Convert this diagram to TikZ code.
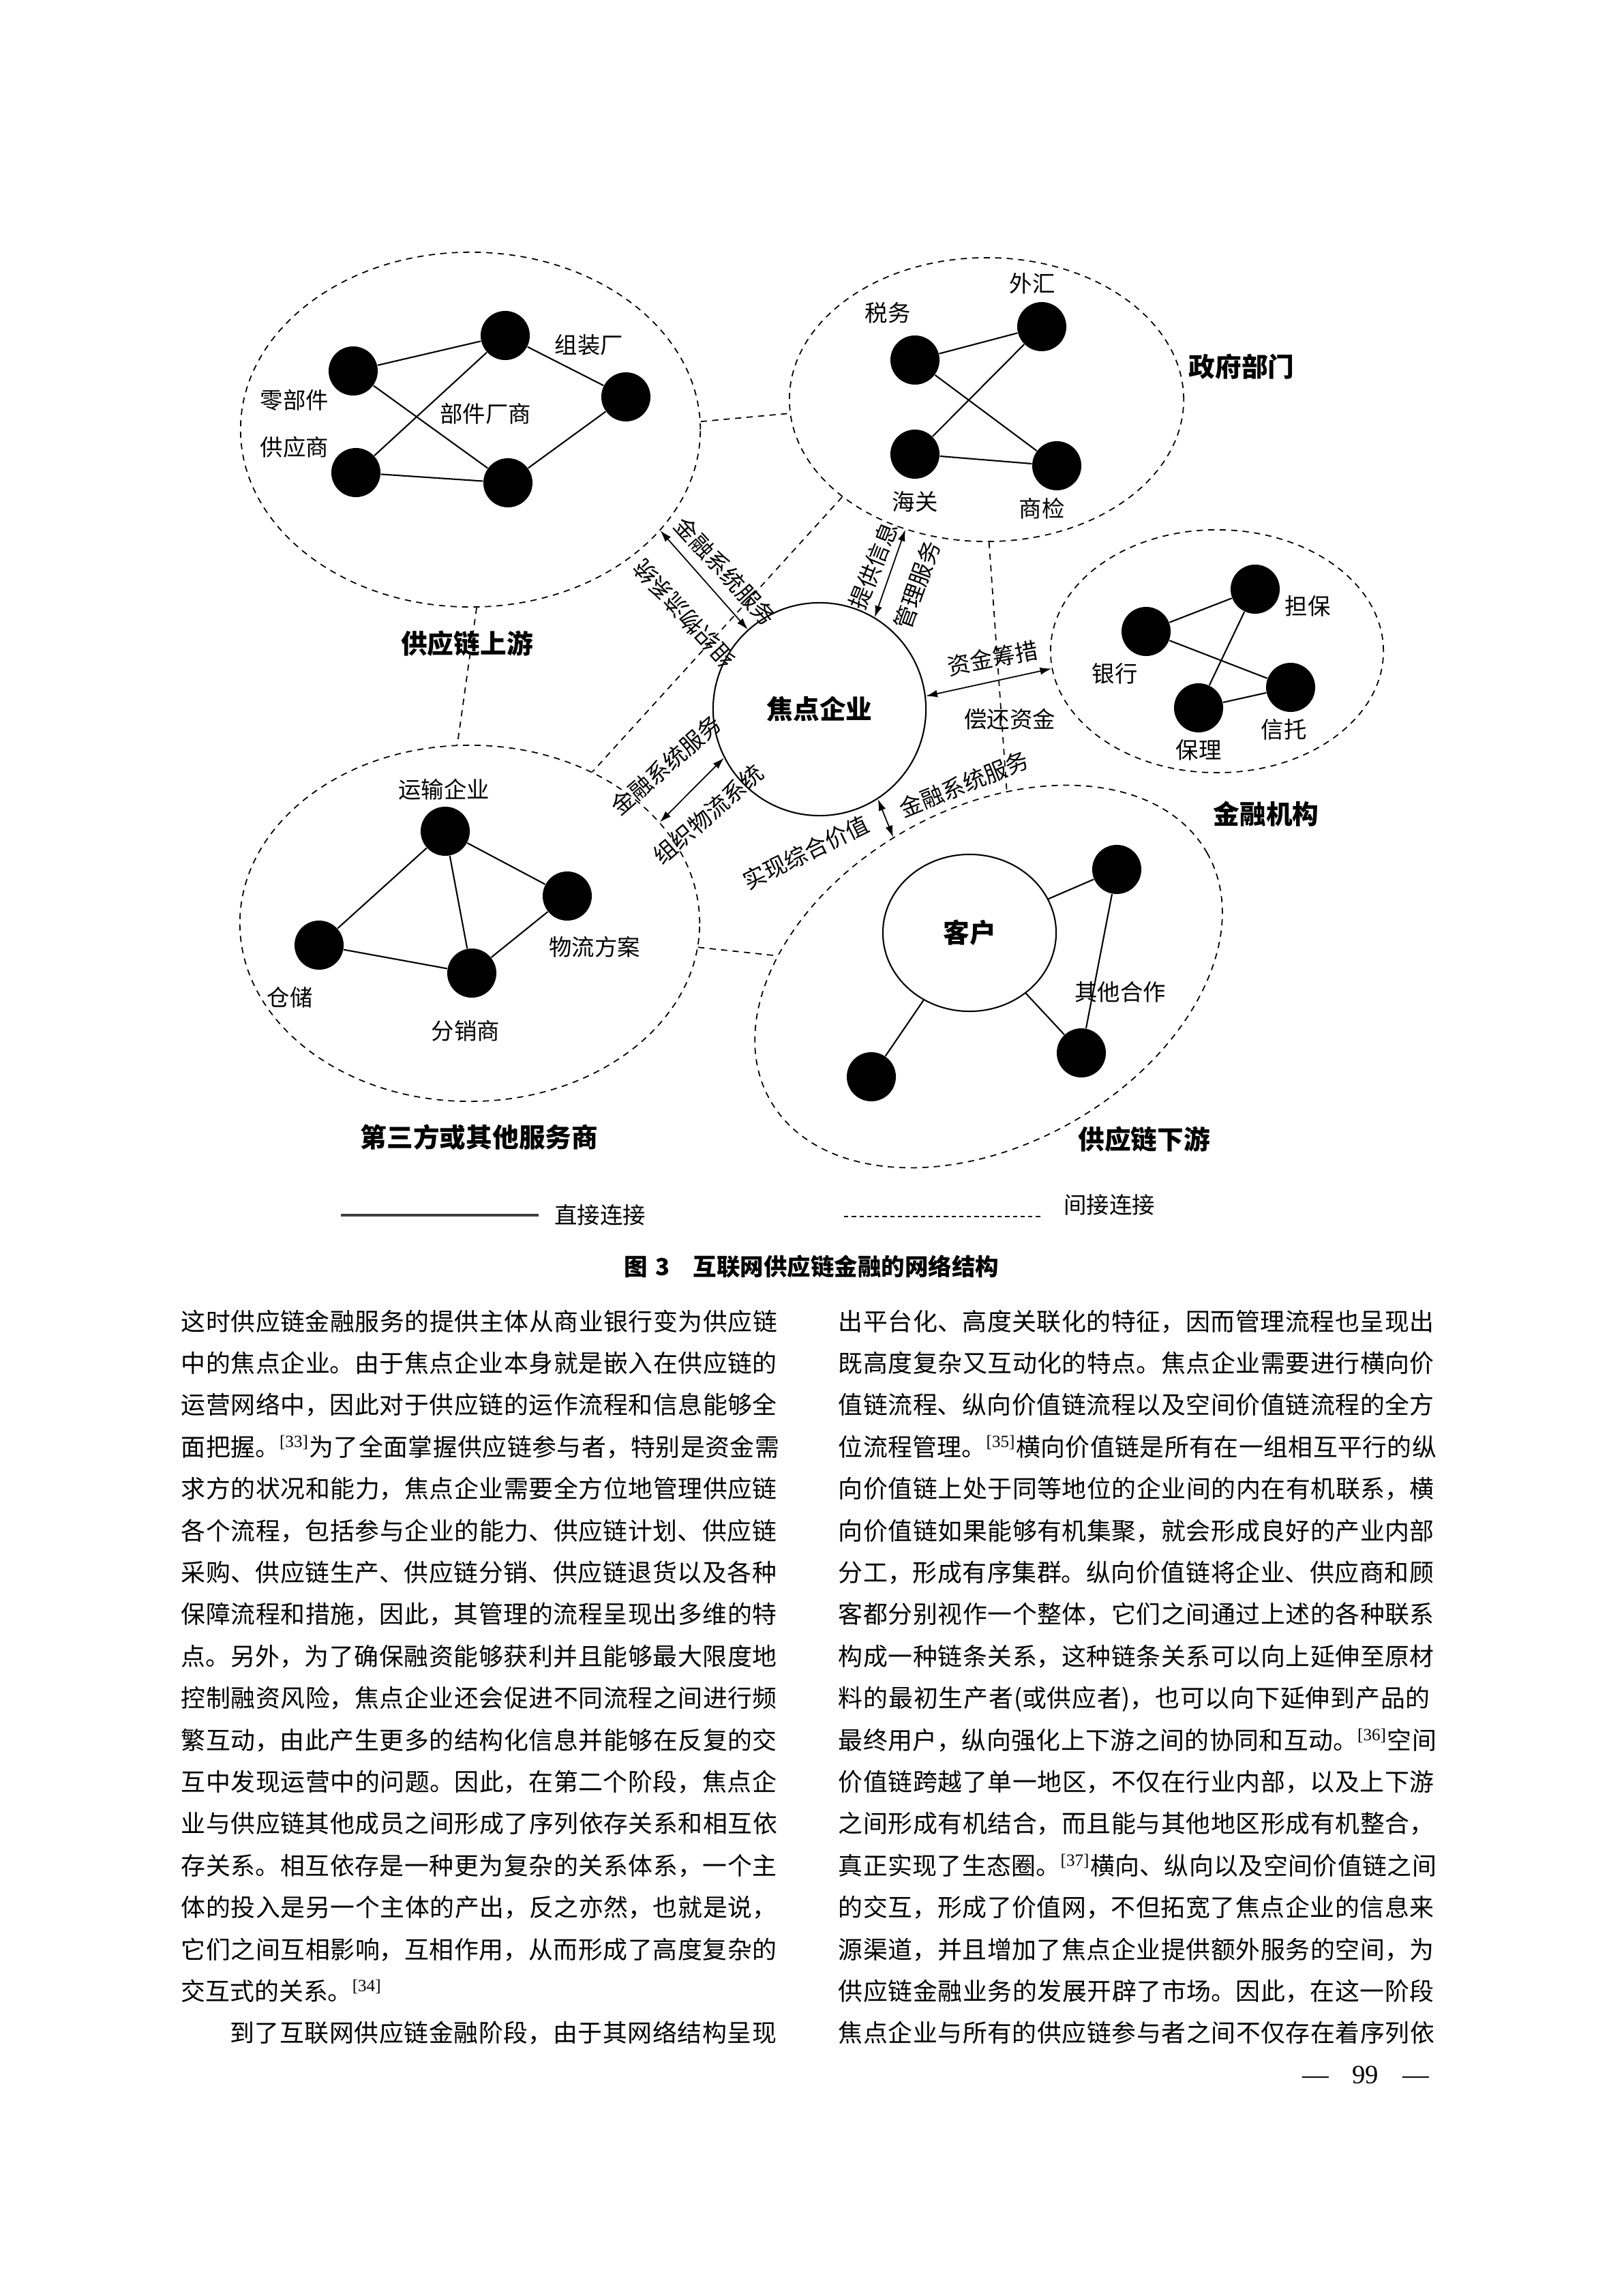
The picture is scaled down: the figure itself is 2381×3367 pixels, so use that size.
\documentclass[tikz,border=0pt]{standalone}
\usepackage{fontspec}
\setmainfont{Noto Sans CJK SC}
\newfontfamily\refnum{Liberation Serif}
\usepackage{tikz}
\usetikzlibrary{arrows.meta,positioning,shapes.geometric}
\XeTeXlinebreaklocale "zh"
\XeTeXlinebreakskip=0pt plus 1pt
\newcommand\fillline[1]{\noindent\parfillskip=0pt\relax#1\par}
\newcommand\refmark[1]{\textsuperscript{\refnum[#1]}}

\begin{document}
\begin{tikzpicture}[
    x=0.01cm, y=-0.01cm,
    grp/.style={draw, ellipse, inner sep=0pt, line width=0.5pt, dash pattern=on 2.6pt off 2.2pt},
    dot/.style={circle, fill=black, minimum size=7.2mm, inner sep=0pt},
    link/.style={line width=0.6pt},
    ind/.style={line width=0.5pt, dash pattern=on 2.6pt off 2.2pt},
    arr/.style={{Latex[length=1.7mm,width=1.1mm]}-{Latex[length=1.7mm,width=1.1mm]}, line width=0.5pt},
    lab/.style={inner sep=1pt, font=\fontsize{9.5}{11}\selectfont},
    ttl/.style={inner sep=1pt, font=\bfseries\fontsize{11}{13}\selectfont},
    txt/.style={anchor=base west, inner sep=0pt, text width=8.86cm, font=\fontsize{10.2}{12}\selectfont}
]
\useasboundingbox (0,0) rectangle (2381,3367);

% groups
\node[grp, minimum width=6.74cm, minimum height=5.2cm] (up) at (690,630) {};
\node[grp, minimum width=5.78cm, minimum height=4.16cm] (gov) at (1447,586) {};
\node[grp, minimum width=4.88cm, minimum height=3.56cm] (fin) at (1785,955) {};
\node[grp, minimum width=6.74cm, minimum height=5.22cm] (third) at (689,1354) {};
\node[grp, minimum width=7.36cm, minimum height=4.92cm, rotate=29.4] (down) at (1450,1432) {};
\node[ttl, draw, circle, line width=0.6pt, minimum size=3.12cm, inner sep=0pt] (focal) at (1202,1040) {焦点企业};

% supply chain upstream
\node[dot] (u1) at (518,544) {};
\node[dot] (u2) at (741,492) {};
\node[dot] (u3) at (918,582) {};
\node[dot] (u4) at (522,693) {};
\node[dot] (u5) at (745,708) {};
\draw[link] (u1) -- (u2);
\draw[link] (u1) -- (u5);
\draw[link] (u2) -- (u4);
\draw[link] (u2) -- (u3);
\draw[link] (u3) -- (u5);
\draw[link] (u4) -- (u5);
\node[lab] (u1t) at (432,587) {零部件};
\node[lab] (u4t) at (432,656) {供应商};
\node[lab] (u5t) at (712,607) {部件厂商};
\node[lab] (u2t) at (864,506) {组装厂};
\node[ttl] (upt) at (685,944) {供应链上游};

% government
\node[dot] (g1) at (1342,528) {};
\node[dot] (g2) at (1528,479) {};
\node[dot] (g3) at (1342,666) {};
\node[dot] (g4) at (1550,683) {};
\draw[link] (g1) -- (g2);
\draw[link] (g1) -- (g4);
\draw[link] (g2) -- (g3);
\draw[link] (g3) -- (g4);
\node[lab] (g1t) at (1302,459) {税务};
\node[lab] (g2t) at (1514,416) {外汇};
\node[lab] (g3t) at (1342,736) {海关};
\node[lab] (g4t) at (1528,746) {商检};
\node[ttl] (govt) at (1821,538) {政府部门};

% financial institutions
\node[dot] (f1) at (1681,926) {};
\node[dot] (f2) at (1841,864) {};
\node[dot] (f3) at (1893,1008) {};
\node[dot] (f4) at (1758,1038) {};
\draw[link] (f1) -- (f2);
\draw[link] (f1) -- (f3);
\draw[link] (f2) -- (f4);
\draw[link] (f4) -- (f3);
\node[lab] (f2t) at (1918,889) {担保};
\node[lab] (f1t) at (1635,988) {银行};
\node[lab] (f3t) at (1883,1070) {信托};
\node[lab] (f4t) at (1758,1100) {保理};
\node[ttl] (fint) at (1857,1194) {金融机构};

% third party
\node[dot] (t1) at (653,1219) {};
\node[dot] (t2) at (832,1314) {};
\node[dot] (t3) at (468,1386) {};
\node[dot] (t4) at (692,1427) {};
\draw[link] (t1) -- (t3);
\draw[link] (t1) -- (t4);
\draw[link] (t1) -- (t2);
\draw[link] (t3) -- (t4);
\draw[link] (t4) -- (t2);
\node[lab] (t1t) at (651,1158) {运输企业};
\node[lab] (t2t) at (872,1389) {物流方案};
\node[lab] (t3t) at (425,1463) {仓储};
\node[lab] (t4t) at (683,1512) {分销商};
\node[ttl] (thirdt) at (703,1668) {第三方或其他服务商};

% downstream
\node[ttl, draw, ellipse, line width=0.6pt, minimum width=2.54cm, minimum height=2.3cm, inner sep=0pt] (kehu) at (1422,1368) {客户};
\node[dot] (d1) at (1638,1275) {};
\node[dot] (d2) at (1586,1544) {};
\node[dot] (d3) at (1278,1579) {};
\draw[link] (kehu) -- (d1);
\draw[link] (kehu) -- (d2);
\draw[link] (kehu) -- (d3);
\draw[link] (d1) -- (d2);
\node[lab] (d2t) at (1643,1455) {其他合作};
\node[ttl] (downt) at (1678,1671) {供应链下游};

% indirect links
\draw[ind] (up.2) -- (gov.184);
\draw[ind] (up.-88) -- (third.94);
\draw[ind] (gov.214) -- (third.51);
\draw[ind] (gov.-89) -- (down.55);
\draw[ind] (third.-6) -- (down.145);

% focal enterprise links
\draw[arr] (up.-28) -- (focal.132);
\draw[arr] (gov.-122) -- (focal.59);
\draw[arr] (focal.7) -- (fin.186);
\draw[arr] (focal.207) -- (third.28);
\draw[arr] (focal.-57) -- (down.95);
\node[lab, rotate=-47.6] (a1u) at (1064,838) {金融系统服务};
\node[lab, rotate=132.4] (a1d) at (1003,900) {组织物流系统};
\node[lab, rotate=68] (a2l) at (1281,830) {提供信息};
\node[lab, rotate=70] (a2r) at (1345,858) {管理服务};
\node[lab, rotate=11] (a3u) at (1456,965) {资金筹措};
\node[lab] (a3d) at (1481,1055) {偿还资金};
\node[lab, rotate=41] (a4u) at (977,1122) {金融系统服务};
\node[lab, rotate=41] (a4d) at (1039,1194) {组织物流系统};
\node[lab, rotate=26] (a5l) at (1182,1250) {实现综合价值};
\node[lab, rotate=22] (a5r) at (1414,1150) {金融系统服务};

% legend
\coordinate (s1) at (500,1782);
\coordinate (s2) at (790,1782);
\coordinate (i1) at (1238,1784);
\coordinate (i2) at (1530,1784);
\draw[line width=1.1pt, black!75] (s1) -- (s2);
\draw[line width=0.6pt, dash pattern=on 1.8pt off 1.4pt] (i1) -- (i2);
\node[lab] (st) at (880,1782) {直接连接};
\node[lab] (it) at (1627,1767) {间接连接};

% caption
\node[inner sep=0pt, font=\bfseries\fontsize{9.8}{12}\selectfont] (cap) at (1190,1857) {图\hspace{0.35em}3\hspace{1em}互联网供应链金融的网络结构};

% left column
\node[txt] (L1) at (265,1951) {\fillline{这时供应链金融服务的提供主体从商业银行变为供应链}};
\node[txt] (L2) at (265,2012.4) {\fillline{中的焦点企业。由于焦点企业本身就是嵌入在供应链的}};
\node[txt] (L3) at (265,2073.8) {\fillline{运营网络中，因此对于供应链的运作流程和信息能够全}};
\node[txt] (L4) at (265,2135.2) {\fillline{面把握。\refmark{33}为了全面掌握供应链参与者，特别是资金需}};
\node[txt] (L5) at (265,2196.6) {\fillline{求方的状况和能力，焦点企业需要全方位地管理供应链}};
\node[txt] (L6) at (265,2258) {\fillline{各个流程，包括参与企业的能力、供应链计划、供应链}};
\node[txt] (L7) at (265,2319.4) {\fillline{采购、供应链生产、供应链分销、供应链退货以及各种}};
\node[txt] (L8) at (265,2380.8) {\fillline{保障流程和措施，因此，其管理的流程呈现出多维的特}};
\node[txt] (L9) at (265,2442.2) {\fillline{点。另外，为了确保融资能够获利并且能够最大限度地}};
\node[txt] (L10) at (265,2503.6) {\fillline{控制融资风险，焦点企业还会促进不同流程之间进行频}};
\node[txt] (L11) at (265,2565) {\fillline{繁互动，由此产生更多的结构化信息并能够在反复的交}};
\node[txt] (L12) at (265,2626.4) {\fillline{互中发现运营中的问题。因此，在第二个阶段，焦点企}};
\node[txt] (L13) at (265,2687.8) {\fillline{业与供应链其他成员之间形成了序列依存关系和相互依}};
\node[txt] (L14) at (265,2749.2) {\fillline{存关系。相互依存是一种更为复杂的关系体系，一个主}};
\node[txt] (L15) at (265,2810.6) {\fillline{体的投入是另一个主体的产出，反之亦然，也就是说，}};
\node[txt] (L16) at (265,2872) {\fillline{它们之间互相影响，互相作用，从而形成了高度复杂的}};
\node[txt] (L17) at (265,2933.4) {\noindent 交互式的关系。\refmark{34}};
\node[txt] (L18) at (265,2994.8) {\fillline{\hspace*{2em}到了互联网供应链金融阶段，由于其网络结构呈现}};

% right column
\node[txt] (R1) at (1229,1951) {\fillline{出平台化、高度关联化的特征，因而管理流程也呈现出}};
\node[txt] (R2) at (1229,2012.4) {\fillline{既高度复杂又互动化的特点。焦点企业需要进行横向价}};
\node[txt] (R3) at (1229,2073.8) {\fillline{值链流程、纵向价值链流程以及空间价值链流程的全方}};
\node[txt] (R4) at (1229,2135.2) {\fillline{位流程管理。\refmark{35}横向价值链是所有在一组相互平行的纵}};
\node[txt] (R5) at (1229,2196.6) {\fillline{向价值链上处于同等地位的企业间的内在有机联系，横}};
\node[txt] (R6) at (1229,2258) {\fillline{向价值链如果能够有机集聚，就会形成良好的产业内部}};
\node[txt] (R7) at (1229,2319.4) {\fillline{分工，形成有序集群。纵向价值链将企业、供应商和顾}};
\node[txt] (R8) at (1229,2380.8) {\fillline{客都分别视作一个整体，它们之间通过上述的各种联系}};
\node[txt] (R9) at (1229,2442.2) {\fillline{构成一种链条关系，这种链条关系可以向上延伸至原材}};
\node[txt] (R10) at (1229,2503.6) {\fillline{料的最初生产者(或供应者)，也可以向下延伸到产品的}};
\node[txt] (R11) at (1229,2565) {\fillline{最终用户，纵向强化上下游之间的协同和互动。\refmark{36}空间}};
\node[txt] (R12) at (1229,2626.4) {\fillline{价值链跨越了单一地区，不仅在行业内部，以及上下游}};
\node[txt] (R13) at (1229,2687.8) {\fillline{之间形成有机结合，而且能与其他地区形成有机整合，}};
\node[txt] (R14) at (1229,2749.2) {\fillline{真正实现了生态圈。\refmark{37}横向、纵向以及空间价值链之间}};
\node[txt] (R15) at (1229,2810.6) {\fillline{的交互，形成了价值网，不但拓宽了焦点企业的信息来}};
\node[txt] (R16) at (1229,2872) {\fillline{源渠道，并且增加了焦点企业提供额外服务的空间，为}};
\node[txt] (R17) at (1229,2933.4) {\fillline{供应链金融业务的发展开辟了市场。因此，在这一阶段}};
\node[txt] (R18) at (1229,2994.8) {\fillline{焦点企业与所有的供应链参与者之间不仅存在着序列依}};

% page number
\node[inner sep=0pt, font=\refnum\fontsize{11}{13}\selectfont] (pg) at (2003,3043) {—\hspace{0.9em}99\hspace{0.9em}—};
\end{tikzpicture}
\end{document}
